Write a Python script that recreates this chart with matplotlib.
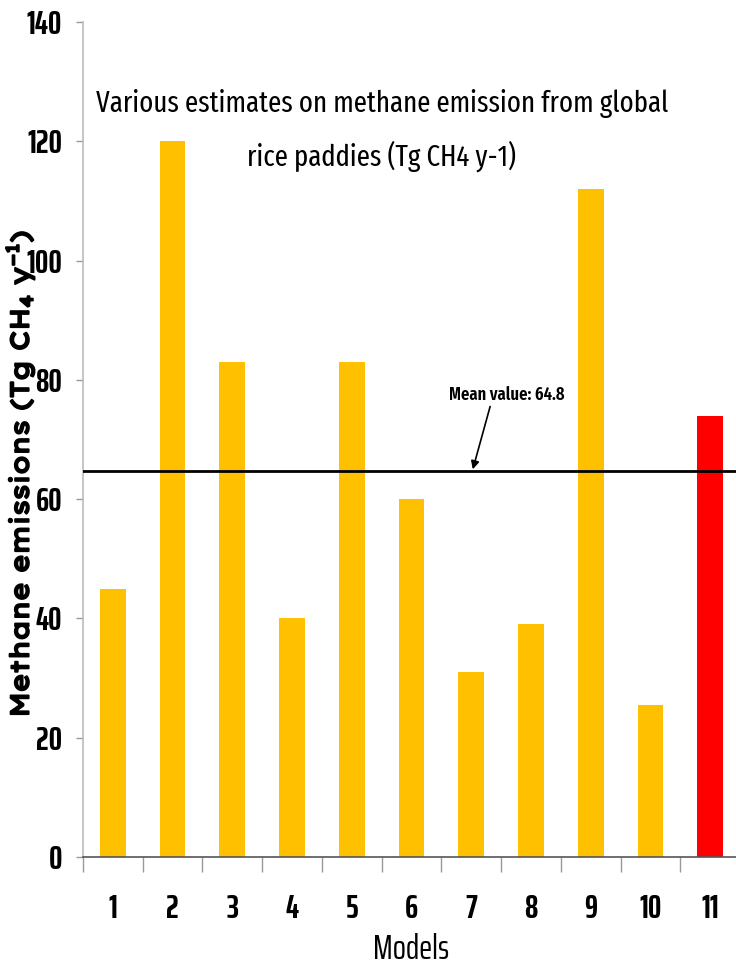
import numpy as np
import matplotlib
matplotlib.use("Agg")
import matplotlib.pyplot as plt
import matplotlib.patheffects as pe

models = ["1", "2", "3", "4", "5", "6", "7", "8", "9", "10", "11"]
emissions = [45, 120, 83, 40, 83, 60, 31, 39, 112, 25.5, 74]
bar_colors = ["#FFC000"] * 10 + ["#FF0000"]
y_ticks = [0, 20, 40, 60, 80, 100, 120, 140]

mean_value = float(np.mean(emissions))

cond = ["Fira Sans Extra Condensed", "DejaVu Sans"]
digits = ["Saira ExtraCondensed", "Fira Sans Extra Condensed", "DejaVu Sans"]
wide = ["Lexend Exa", "DejaVu Sans"]

plt.rcParams["mathtext.fontset"] = "custom"
plt.rcParams["mathtext.rm"] = "Lexend Exa"
plt.rcParams["mathtext.bf"] = "Lexend Exa:bold"

fig = plt.figure(figsize=(7.36, 9.68), dpi=100)
ax = fig.add_axes([83 / 736, 111 / 968, 657 / 736, 835 / 968])

x = np.arange(1, len(models) + 1)
ax.bar(x, emissions, width=0.43, color=bar_colors, zorder=2)

ax.set_xlim(0.5, len(models) + 0.5)
ax.set_ylim(0, 140)
ax.set_yticks(y_ticks)
ax.set_yticklabels([str(v) for v in y_ticks], fontsize=24, fontweight="bold", family=digits)

# category labels centred under bars, tick marks on category boundaries
ax.set_xticks(x)
ax.set_xticklabels(models, fontsize=24, fontweight="bold", family=digits)
ax.set_xticks(np.arange(0.5, len(models) + 0.6, 1.0), minor=True)
ax.tick_params(axis="x", which="major", length=0, pad=27)
ax.tick_params(axis="x", which="minor", length=11, width=1, color="#999999")
ax.tick_params(axis="y", which="major", length=5, width=1, color="#999999", pad=10)

for side in ("top", "right"):
    ax.spines[side].set_visible(False)
ax.spines["left"].set_color("#BBBBBB")
ax.spines["left"].set_linewidth(1.2)
ax.spines["bottom"].set_color("#555555")
ax.spines["bottom"].set_linewidth(1.2)

ax.set_xlabel("Models", fontsize=25, family=digits, labelpad=6)
ylab = ax.set_ylabel(r"Methane emissions (Tg CH$_\mathbf{4}$ y$^\mathbf{-1}$)",
                     fontsize=18.5, fontweight="bold", family=wide)
ylab.set_path_effects([pe.withStroke(linewidth=1.4, foreground="black")])
ax.yaxis.set_label_coords(-0.07, 0.459)

# mean line with annotation
ax.axhline(mean_value, color="black", linewidth=2, zorder=3)
ax.annotate(f"Mean value: {mean_value:.1f}",
            xy=(7.02, mean_value), xytext=(7.6, 76.0),
            fontsize=13, fontweight="semibold", family=cond, ha="center", va="bottom",
            arrowprops=dict(arrowstyle="-|>", color="black", lw=1.2, mutation_scale=12,
                            shrinkA=0, shrinkB=1, relpos=(0.36, 0.0)))

ax.text(0.455, 0.92, "Various estimates on methane emission from global\nrice paddies (Tg CH4 y-1)",
        transform=ax.transAxes, ha="center", va="top", fontsize=21,
        family=cond, linespacing=1.9)

fig.savefig("out.png", dpi=100)
